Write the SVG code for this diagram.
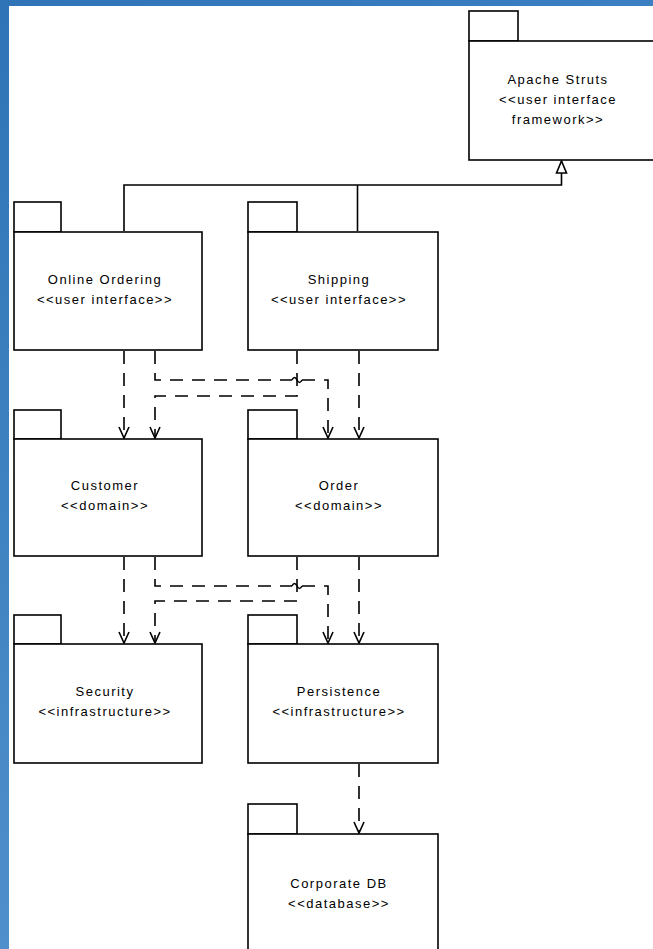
<svg xmlns="http://www.w3.org/2000/svg" width="653" height="949" viewBox="0 0 653 949">
  <defs>
    <linearGradient id="edgeV" x1="0" y1="0" x2="0" y2="1">
      <stop offset="0" stop-color="#2e74b6"/>
      <stop offset="1" stop-color="#4f8fcb"/>
    </linearGradient>
    <linearGradient id="edgeH" x1="0" y1="0" x2="1" y2="0">
      <stop offset="0" stop-color="#2e74b6"/>
      <stop offset="1" stop-color="#3a7fc2"/>
    </linearGradient>
    <marker id="open" viewBox="-12 -7 14 14" refX="0" refY="0" markerWidth="14" markerHeight="14" markerUnits="userSpaceOnUse" orient="auto">
      <path d="M-11,-5 L0,0 L-11,5" fill="none" stroke="#000" stroke-width="1.6"/>
    </marker>
    <marker id="gen" viewBox="-14 -8 16 16" refX="0" refY="0" markerWidth="16" markerHeight="16" markerUnits="userSpaceOnUse" orient="auto">
      <path d="M-12,-5 L0,0 L-12,5 Z" fill="#fff" stroke="#000" stroke-width="1.6"/>
    </marker>
  </defs>
  <style>
    .box { fill: #fff; stroke: #000; stroke-width: 1.6; }
    .lbl { font-family: "Liberation Sans", Arial, sans-serif; font-size: 13px; letter-spacing: 1.5px; fill: #000; text-anchor: middle; }
    .dep { fill: none; stroke: #000; stroke-width: 1.6; stroke-dasharray: 13 9; marker-end: url(#open); }
    .dep2 { fill: none; stroke: #000; stroke-width: 1.6; stroke-dasharray: 13 9; }
    .solid { fill: none; stroke: #000; stroke-width: 1.6; }
  </style>

  <!-- page background with blue frame edges -->
  <rect x="0" y="0" width="653" height="949" fill="#fff"/>
  <rect x="0" y="0" width="9" height="949" fill="url(#edgeV)"/>
  <rect x="0" y="0" width="653" height="6" fill="url(#edgeH)"/>

  <!-- connectors -->
  <g id="connectors">
    <!-- generalization to Apache Struts -->
    <path class="solid" d="M124,231 V185 H561.5 V172"/>
    <path class="solid" d="M357.5,231 V185"/>
    <path class="solid" d="M561.5,173 V161" marker-end="url(#gen)"/>

    <!-- user interface -> domain -->
    <path class="dep" d="M124,351 V438"/>
    <path class="dep" d="M155,351 V380 H292 M302,380 H328 V438"/>
    <path class="solid" d="M292,380 q2.5,-5 5,0 q2.5,5 5,0"/>
    <path class="dep" d="M297,351 V396 H155 V438"/>
    <path class="dep" d="M359,351 V438"/>

    <!-- domain -> infrastructure -->
    <path class="dep" d="M124,557 V643"/>
    <path class="dep" d="M155,557 V586 H292 M302,586 H328 V643"/>
    <path class="solid" d="M292,586 q2.5,-5 5,0 q2.5,5 5,0"/>
    <path class="dep" d="M297,557 V601 H155 V643"/>
    <path class="dep" d="M359,557 V643"/>

    <!-- persistence -> database -->
    <path class="dep" d="M359,764 V833"/>
  </g>

  <!-- packages -->
  <g id="apache-struts">
    <rect class="box" x="469" y="11" width="49" height="30"/>
    <rect class="box" x="469" y="41" width="200" height="119"/>
    <text class="lbl" x="558" y="84">Apache Struts</text>
    <text class="lbl" x="558" y="104">&lt;&lt;user interface</text>
    <text class="lbl" x="558" y="124">framework&gt;&gt;</text>
  </g>

  <g id="online-ordering">
    <rect class="box" x="14" y="202" width="47" height="30"/>
    <rect class="box" x="14" y="232" width="188" height="118"/>
    <text class="lbl" x="105" y="284">Online Ordering</text>
    <text class="lbl" x="105" y="304">&lt;&lt;user interface&gt;&gt;</text>
  </g>

  <g id="shipping">
    <rect class="box" x="248" y="202" width="49" height="30"/>
    <rect class="box" x="248" y="232" width="190" height="118"/>
    <text class="lbl" x="339" y="284">Shipping</text>
    <text class="lbl" x="339" y="304">&lt;&lt;user interface&gt;&gt;</text>
  </g>

  <g id="customer">
    <rect class="box" x="14" y="410" width="47" height="29"/>
    <rect class="box" x="14" y="439" width="188" height="117"/>
    <text class="lbl" x="105" y="490">Customer</text>
    <text class="lbl" x="105" y="510">&lt;&lt;domain&gt;&gt;</text>
  </g>

  <g id="order">
    <rect class="box" x="248" y="410" width="49" height="29"/>
    <rect class="box" x="248" y="439" width="190" height="117"/>
    <text class="lbl" x="339" y="490">Order</text>
    <text class="lbl" x="339" y="510">&lt;&lt;domain&gt;&gt;</text>
  </g>

  <g id="security">
    <rect class="box" x="14" y="615" width="47" height="29"/>
    <rect class="box" x="14" y="644" width="188" height="119"/>
    <text class="lbl" x="105" y="696">Security</text>
    <text class="lbl" x="105" y="716">&lt;&lt;infrastructure&gt;&gt;</text>
  </g>

  <g id="persistence">
    <rect class="box" x="248" y="615" width="49" height="29"/>
    <rect class="box" x="248" y="644" width="190" height="119"/>
    <text class="lbl" x="339" y="696">Persistence</text>
    <text class="lbl" x="339" y="716">&lt;&lt;infrastructure&gt;&gt;</text>
  </g>

  <g id="corporate-db">
    <rect class="box" x="248" y="804" width="49" height="30"/>
    <rect class="box" x="248" y="834" width="190" height="130"/>
    <text class="lbl" x="339" y="888">Corporate DB</text>
    <text class="lbl" x="339" y="908">&lt;&lt;database&gt;&gt;</text>
  </g>
</svg>
